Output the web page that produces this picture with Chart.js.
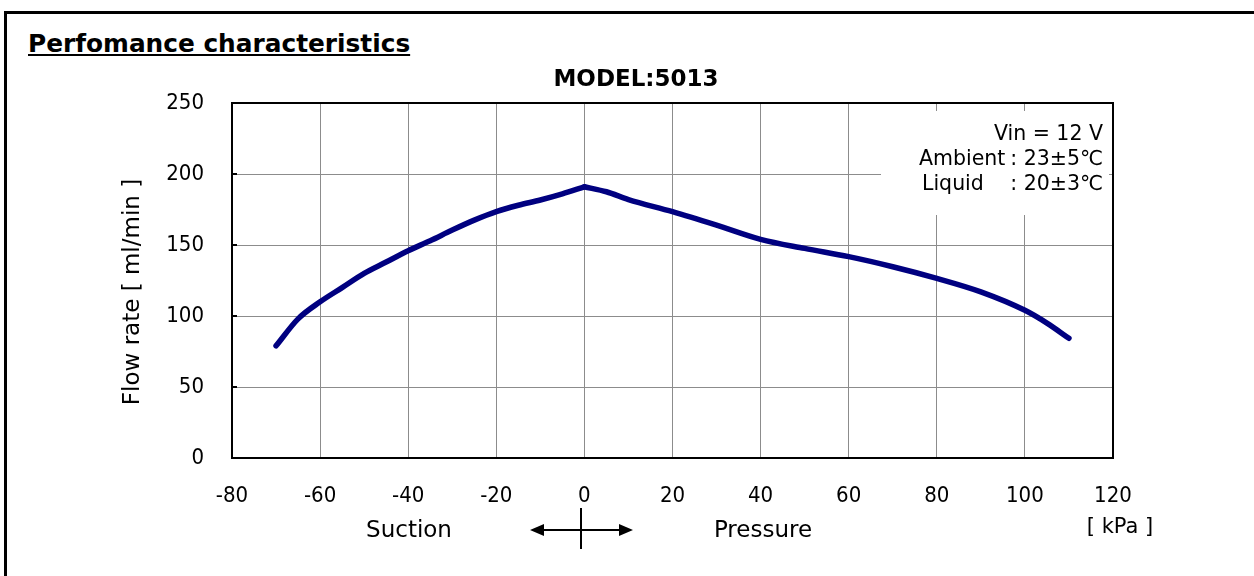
<!DOCTYPE html>
<html>
<head>
<meta charset="utf-8">
<title>Perfomance characteristics</title>
<script src="https://cdn.jsdelivr.net/npm/chart.js"></script>
<style>
  body { margin:0; background:#fff; width:1254px; height:576px; overflow:hidden; position:relative;
         font-family: 'DejaVu Sans', sans-serif; }
  #frame { position:absolute; left:4px; top:11px; width:1300px; height:700px; border:3px solid #000; box-sizing:border-box; }
  h1 { position:absolute; left:28px; top:29px; margin:0; font-size:24.8px; line-height:30px; font-weight:bold; text-decoration:underline; }
  #graf { position:absolute; left:0; top:0; }
</style>
</head>
<body>
  <div id="frame"></div>
  <h1>Perfomance characteristics</h1>
  <canvas id="graf" width="1254" height="576"></canvas>

  <script>
    // pressure [kPa] vs flow rate [ml/min]
    const pressure = [-70, -65, -60, -55, -50, -45, -40, -35, -30, -25, -20, -15, -10, -5, 0, 5, 10, 20, 30, 40, 50, 60, 70, 80, 90, 100, 105, 110];
    const flow     = [79, 98, 110, 120, 130, 138, 146, 153, 160.5, 167.5, 173.5, 178, 181.7, 186, 191, 187.5, 182, 173.5, 164, 154, 147.6, 141.8, 134.7, 126.5, 117, 104, 95, 84.3];
    const xRange = [-80, 120];
    const yRange = [0, 250];
    const modelName = 'MODEL:5013';
    const conditions = ['Vin = 12 V', ['Ambient', ': 23±5℃'], ['Liquid', ': 20±3℃']];

    const cond = "'DejaVu Sans Condensed', 'DejaVu Sans', sans-serif";
    const norm = "'DejaVu Sans', sans-serif";

    // suction side and pressure side, both ending at the 0 kPa peak
    const pts = pressure.map((p, i) => ({ x: p, y: flow[i] }));
    const suction = pts.filter(d => d.x <= 0);
    const press = pts.filter(d => d.x >= 0);

    const extras = {
      id: 'extras',
      beforeDatasetsDraw(chart) {
        const c = chart.ctx;
        c.save();
        c.fillStyle = '#fff';
        c.fillRect(881, 111, 228, 104);
        c.fillStyle = '#000';
        c.font = '20.5px ' + norm;
        c.textAlign = 'right';
        c.fillText(conditions[0], 1103, 140);
        c.textAlign = 'left';
        c.fillText(conditions[1][0], 919, 165);
        c.fillText(conditions[2][0], 922, 190);
        c.textAlign = 'right';
        c.fillText(conditions[1][1], 1103, 165);
        c.fillText(conditions[2][1], 1103, 190);
        c.restore();
      },
      afterDraw(chart) {
        const c = chart.ctx;
        const a = chart.chartArea;
        const y = chart.scales.y;
        c.save();
        c.strokeStyle = '#000';
        c.lineWidth = 2;
        c.strokeRect(a.left, a.top, a.right - a.left, a.bottom - a.top);
        y.ticks.forEach(t => {
          const py = y.getPixelForValue(t.value);
          c.beginPath(); c.moveTo(a.left, py); c.lineTo(a.left + 5, py); c.stroke();
        });
        c.fillStyle = '#000';
        c.textAlign = 'center';
        c.font = 'bold 23px ' + norm;
        c.fillText(modelName, 636, 86);
        c.font = '23px ' + norm;
        c.save();
        c.translate(139, 292);
        c.rotate(-Math.PI / 2);
        c.fillText('Flow rate [ ml/min ]', 0, 0);
        c.restore();
        c.fillText('Suction', 409, 537);
        c.fillText('Pressure', 763, 537);
        c.font = '21px ' + norm;
        c.fillText('[ kPa ]', 1120, 533);
        // arrow under zero
        c.lineWidth = 2;
        c.beginPath();
        c.moveTo(540, 530); c.lineTo(623, 530);
        c.moveTo(581, 508); c.lineTo(581, 549);
        c.stroke();
        c.beginPath();
        c.moveTo(530, 530); c.lineTo(544, 524); c.lineTo(544, 536); c.closePath();
        c.moveTo(633, 530); c.lineTo(619, 524); c.lineTo(619, 536); c.closePath();
        c.fill();
        c.restore();
      }
    };

    const lineStyle = {
      borderColor: '#000080',
      borderWidth: 5.5,
      borderCapStyle: 'round',
      borderJoinStyle: 'round',
      pointRadius: 0,
      cubicInterpolationMode: 'monotone',
      fill: false
    };

    new Chart(document.getElementById('graf'), {
      type: 'line',
      data: {
        datasets: [
          Object.assign({ data: suction }, lineStyle),
          Object.assign({ data: press }, lineStyle)
        ]
      },
      options: {
        responsive: false,
        animation: false,
        layout: { padding: { left: 0, top: 103, right: 141, bottom: 48 } },
        plugins: { legend: { display: false }, tooltip: { enabled: false } },
        scales: {
          x: {
            type: 'linear', min: xRange[0], max: xRange[1],
            afterFit(s) { s.height = 70; },
            ticks: { stepSize: 20, color: '#000', padding: 25, font: { family: cond, size: 22 } },
            grid: { color: '#8c8c8c', lineWidth: 1, drawTicks: false },
            border: { display: false }
          },
          y: {
            min: yRange[0], max: yRange[1],
            afterFit(s) { s.width = 232; },
            ticks: { stepSize: 50, color: '#000', padding: 28, font: { family: cond, size: 22 } },
            grid: { color: '#8c8c8c', lineWidth: 1, drawTicks: false },
            border: { display: false }
          }
        }
      },
      plugins: [extras]
    });
  </script>
</body>
</html>
